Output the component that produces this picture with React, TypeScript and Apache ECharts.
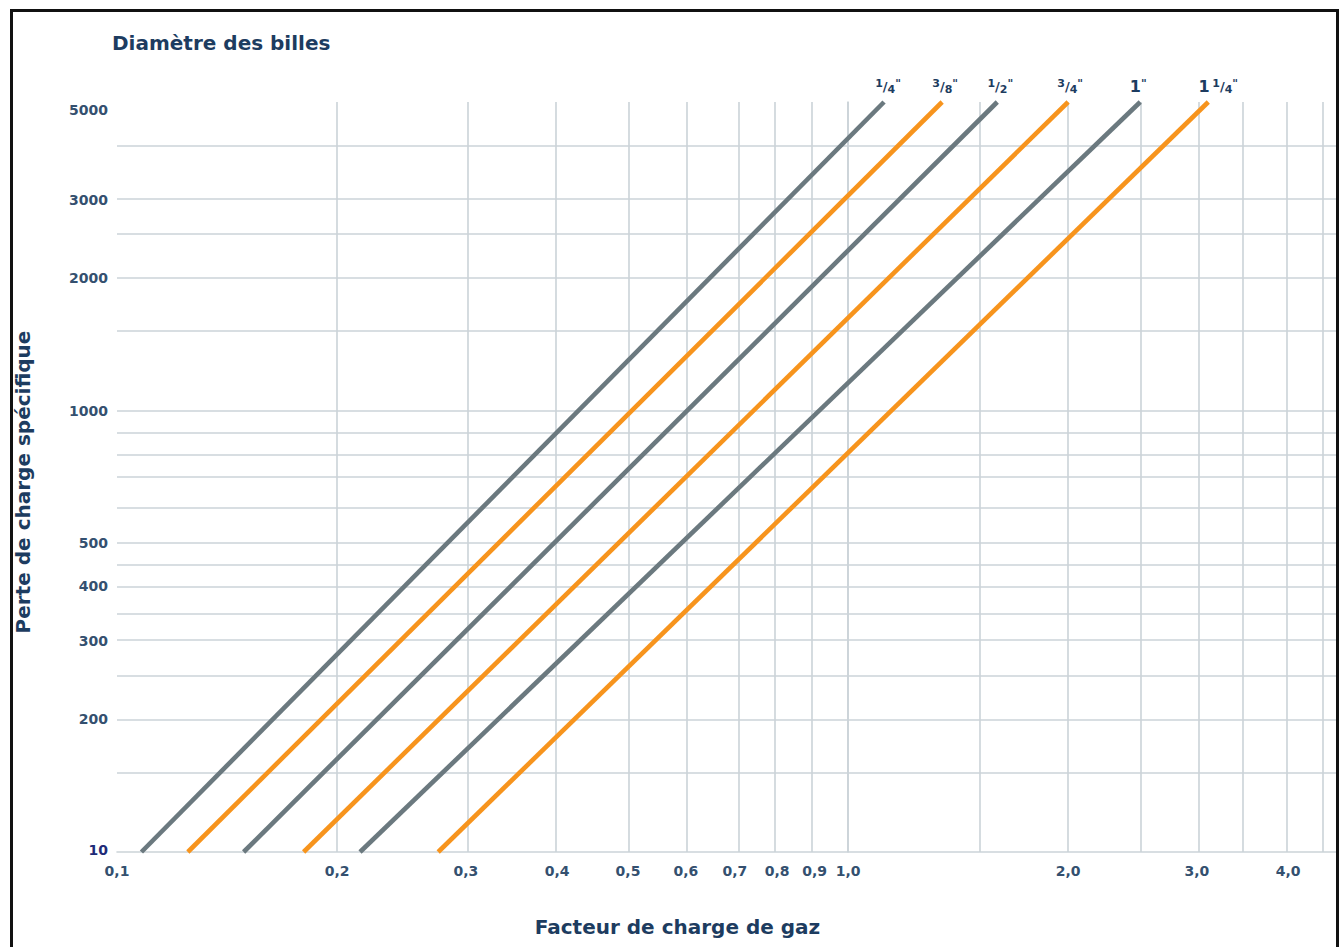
import React, { useEffect, useRef } from "react";
import * as echarts from "echarts";

// ---- data ----
const DIAMETERS = ['1/4"', '3/8"', '1/2"', '3/4"', '1"', '1 1/4"'];
// gas load factor where each line meets the bottom (100) and top (5000) of the chart
const X_AT_BOTTOM = [0.108, 0.125, 0.149, 0.18, 0.215, 0.275];
const X_AT_TOP = [1.12, 1.345, 1.6, 2.0, 2.51, 3.11];
const Y_BOTTOM = 100;
const Y_TOP = 5000;

const X_MIN = 0.1;
const X_MAX = 4.65;
const X_TICKS = [0.1, 0.2, 0.3, 0.4, 0.5, 0.6, 0.7, 0.8, 0.9, 1.0, 2.0, 3.0, 4.0];
const X_TICK_LABELS = ["0,1", "0,2", "0,3", "0,4", "0,5", "0,6", "0,7", "0,8", "0,9", "1,0", "2,0", "3,0", "4,0"];
const X_GRID = [0.2, 0.3, 0.4, 0.5, 0.6, 0.7, 0.8, 0.9, 1.0, 1.5, 2.0, 2.5, 3.0, 3.5, 4.0, 4.5];

const Y_TICKS = [100, 200, 300, 400, 500, 1000, 2000, 3000, 5000];
const Y_TICK_LABELS = ["10", "200", "300", "400", "500", "1000", "2000", "3000", "5000"];
const Y_GRID = [150, 200, 250, 300, 350, 400, 450, 500, 600, 700, 800, 900, 1000, 1500, 2000, 2500, 3000, 4000, 5000];

// ---- styles ----
const SERIES_COLORS = ["#6b797f", "#f7941d", "#6b797f", "#f7941d", "#6b797f", "#f7941d"];
const LABEL_DX = [4, 3, 3, 2, -2, 10];
const NAVY = "#1d3c60";
const LABEL_COLOR = "#34506f";
const GRID_COLOR = "#cbd3d8";
const FONT = '"DejaVu Sans", Verdana, sans-serif';

const lg = (v: number) => Math.log10(v);

function findLabel(ticks: number[], labels: string[], v: number): string {
  for (let i = 0; i < ticks.length; i++) {
    if (Math.abs(lg(ticks[i]) - v) < 1e-6) return labels[i];
  }
  return "";
}

function diameterRich(d: string): string {
  const body = d.replace('"', "");
  const parts = body.split(" ");
  let out = "";
  parts.forEach((p, i) => {
    if (i > 0) out += "{sp| }";
    if (p.includes("/")) {
      const [n, den] = p.split("/");
      out += `{n|${n}}{s|/}{d|${den}}`;
    } else {
      out += `{w|${p}}`;
    }
  });
  return out + '{q|"}';
}

export default function App() {
  const ref = useRef<HTMLDivElement>(null);

  useEffect(() => {
    if (!ref.current) return;
    const chart = echarts.init(ref.current, undefined, { renderer: "svg" });

    const rich = {
      n: { fontSize: 11, fontWeight: "bold", color: NAVY, fontFamily: FONT, verticalAlign: "top", lineHeight: 17 },
      s: { fontSize: 13, fontWeight: "bold", color: NAVY, fontFamily: FONT, lineHeight: 17 },
      d: { fontSize: 11, fontWeight: "bold", color: NAVY, fontFamily: FONT, verticalAlign: "bottom", lineHeight: 17 },
      w: { fontSize: 16, fontWeight: "bold", color: NAVY, fontFamily: FONT, lineHeight: 17 },
      sp: { fontSize: 8, color: NAVY, fontFamily: FONT, lineHeight: 17 },
      q: { fontSize: 11, fontWeight: "bold", color: NAVY, fontFamily: FONT, verticalAlign: "top", lineHeight: 17 },
    };

    const lineSeries = DIAMETERS.map((d, i) => ({
      name: d,
      type: "line",
      z: 5,
      clip: false,
      symbol: "circle",
      symbolSize: 0,
      showSymbol: true,
      lineStyle: { color: SERIES_COLORS[i], width: 4.6 },
      itemStyle: { color: SERIES_COLORS[i] },
      emphasis: { disabled: true },
      data: [
        { value: [lg(X_AT_BOTTOM[i]), lg(Y_BOTTOM)] },
        {
          value: [lg(X_AT_TOP[i]), lg(Y_TOP)],
          label: {
            show: true,
            position: "top",
            distance: 7,
            offset: [LABEL_DX[i], 0],
            formatter: diameterRich(d),
            rich,
          },
        },
      ],
    }));

    const gridSeries = {
      name: "grid",
      type: "line",
      z: 1,
      symbol: "none",
      silent: true,
      lineStyle: { opacity: 0 },
      data: [[lg(X_MIN), lg(Y_BOTTOM)]],
      markLine: {
        silent: true,
        symbol: ["none", "none"],
        label: { show: false },
        emphasis: { disabled: true },
        lineStyle: { type: "solid", color: GRID_COLOR, width: 1.6 },
        data: [
          ...X_GRID.map((v) => ({ xAxis: lg(v) })),
          ...Y_GRID.map((v) => ({ yAxis: lg(v) })),
        ],
      },
    };

    const option = {
      animation: false,
      backgroundColor: "#ffffff",
      grid: { left: 117, top: 102, right: 4, bottom: 95, containLabel: false },
      xAxis: {
        type: "value",
        min: lg(X_MIN),
        max: lg(X_MAX),
        name: "Facteur de charge de gaz",
        nameLocation: "middle",
        nameGap: 65,
        nameTextStyle: {
          fontFamily: FONT,
          fontSize: 20,
          fontWeight: "bold",
          color: NAVY,
          padding: [0, 98, 0, 0],
        },
        axisLine: { show: true, lineStyle: { color: GRID_COLOR, width: 1.6 } },
        axisTick: { show: false },
        splitLine: { show: false },
        axisLabel: {
          customValues: X_TICKS.map(lg),
          interval: 0,
          margin: 12,
          fontFamily: FONT,
          fontSize: 14,
          fontWeight: "bold",
          color: LABEL_COLOR,
          formatter: (v: number) => findLabel(X_TICKS, X_TICK_LABELS, v),
        },
      },
      yAxis: {
        type: "value",
        min: lg(Y_BOTTOM),
        max: lg(Y_TOP),
        name: "Perte de charge spécifique",
        nameLocation: "middle",
        nameRotate: 90,
        nameGap: 84,
        nameTextStyle: {
          fontFamily: FONT,
          fontSize: 20,
          fontWeight: "bold",
          color: NAVY,
          padding: [0, 10, 0, 0],
        },
        axisLine: { show: true, lineStyle: { color: GRID_COLOR, width: 1.6 } },
        axisTick: { show: false },
        splitLine: { show: false },
        axisLabel: {
          customValues: Y_TICKS.map(lg),
          interval: 0,
          margin: 9,
          fontFamily: FONT,
          fontSize: 14,
          fontWeight: "bold",
          color: LABEL_COLOR,
          formatter: (v: number) => {
            const t = findLabel(Y_TICKS, Y_TICK_LABELS, v);
            if (Math.abs(v - lg(Y_TOP)) < 1e-6) return `{top|${t}}`;
            if (Math.abs(v - lg(Y_BOTTOM)) < 1e-6) return `{bot|${t}}`;
            return t;
          },
          rich: {
            top: { fontFamily: FONT, fontSize: 14, fontWeight: "bold", color: LABEL_COLOR, padding: [16, 0, 0, 0] },
            bot: { fontFamily: FONT, fontSize: 14, fontWeight: "bold", color: "#1e2b78", padding: [0, 0, 4, 0] },
          },
        },
      },
      graphic: [
        {
          type: "text",
          left: 112,
          top: 33,
          silent: true,
          style: {
            text: "Diamètre des billes",
            font: `bold 20px ${FONT}`,
            fill: NAVY,
          },
        },
        {
          type: "rect",
          silent: true,
          z: 100,
          shape: { x: 11.5, y: 10.5, width: 1326, height: 1000 },
          style: { fill: "none", stroke: "#111111", lineWidth: 3 },
        },
      ],
      series: [gridSeries, ...lineSeries],
    };

    chart.setOption(option as any);
    return () => chart.dispose();
  }, []);

  return (
    <div
      ref={ref}
      style={{ position: "absolute", left: 0, top: 0, width: 1340, height: 947 }}
    />
  );
}
